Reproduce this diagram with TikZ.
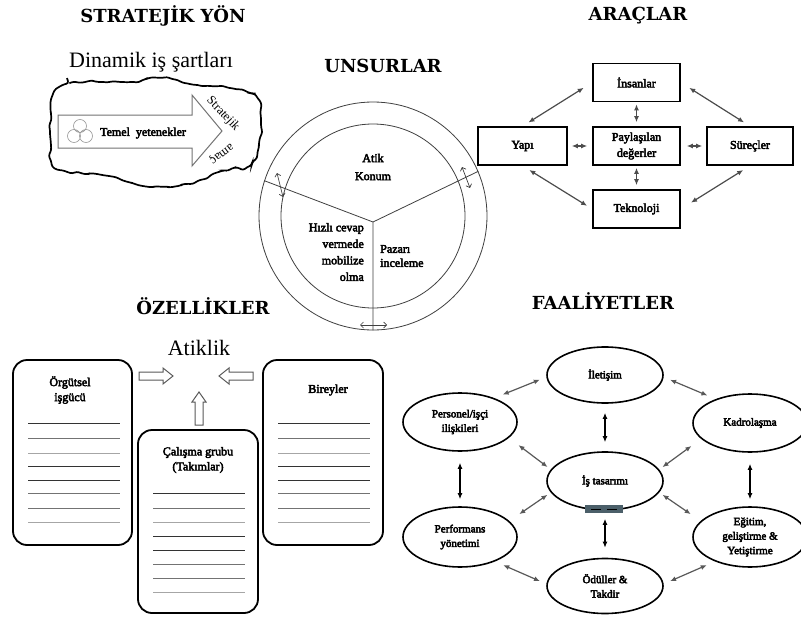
\documentclass[tikz,border=0pt]{standalone}
\usepackage{fontspec}
\setmainfont{Liberation Serif}
\newfontfamily\djserif{DejaVu Serif}
\newcommand\fbon{\special{pdf:literal direct 2 Tr 0.45 w}}
\newcommand\fboff{\special{pdf:literal direct 0 Tr}}
\usetikzlibrary{arrows.meta,shapes.geometric,decorations.pathmorphing,calc}
\pgfmathsetseed{7}
\tikzset{
 fb/.style={execute at begin node=\fbon, execute at end node=\fboff},
 title/.style={font=\fontsize{18}{22}\selectfont\djserif\bfseries, inner sep=0pt},
 big/.style={font=\fontsize{22}{26}\selectfont, inner sep=0pt},
 small/.style={fb, font=\fontsize{12}{15}\selectfont, align=center, inner sep=0pt},
 abox/.style={fb, draw, line width=1.6pt, minimum width=87pt, minimum height=38pt, font=\fontsize{12}{16}\selectfont, align=center, inner sep=1pt},
 aarr/.style={{Latex[length=6pt,width=5pt]}-{Latex[length=6pt,width=5pt]}, line width=1.2pt, black!70},
 fell/.style={fb, draw, ellipse, line width=1.6pt, minimum width=114pt, minimum height=58pt, inner sep=0pt, font=\fontsize{11}{14.5}\selectfont, align=center},
 farr/.style={{Latex[length=6pt,width=5pt]}-{Latex[length=6pt,width=5pt]}, line width=1.2pt, black!65},
 fvarr/.style={{Latex[length=6pt,width=5pt]}-{Latex[length=6pt,width=5pt]}, line width=1.3pt, black},
 lbox/.style={draw, rounded corners=14pt, line width=1.8pt, inner sep=0pt},
 ruleA/.style={black!80, line width=1pt},
 ruleB/.style={black!55, line width=0.8pt},
 ruleC/.style={black!35, line width=0.7pt},
 blk/.style={draw=black!65, line width=1pt, fill=white},
 ring/.style={draw=black!75, line width=0.8pt, circle, inner sep=0pt},
 ringarr/.style={{Straight Barb[length=3pt,width=6pt]}-{Straight Barb[length=3pt,width=6pt]}, line width=0.7pt, black!75},
}
\begin{document}
\begin{tikzpicture}[x=1pt,y=-1pt]
\useasboundingbox (0,0) rectangle (801,621);
\fill[white] (0,0) rectangle (801,621);

% ---------- STRATEJIK YON ----------
\node[title] (t1) at (163,16) {STRATEJİK YÖN};
\node[big] (dyn) at (151,62) {Dinamik iş şartları};
\draw[line width=1.7pt, decorate, decoration={random steps, segment length=5pt, amplitude=1.6pt}, rounded corners=2.5pt]
  plot[smooth cycle] coordinates {(52,97) (67,84) (100,82) (130,82) (160,78) (185,83) (210,86) (235,89) (256,96) (261,125) (258,150) (249,166) (222,171) (200,180) (178,186) (150,187) (128,182) (108,176) (85,174) (65,171) (52,163) (50,132)};
\draw[draw=black!55, line width=1pt, fill=white] (58,115) -- (192,115) -- (192,95) -- (222,131) -- (192,166) -- (192,148) -- (58,148) -- cycle;
\draw[black!40, line width=0.6pt] (80,126) circle (6.5pt) (74,136) circle (6.5pt) (86,136) circle (6.5pt);
\node[small] (tem) at (143,133) {Temel\ \ yetenekler};
\node[font=\fontsize{12.5}{15}\selectfont, rotate=-47, inner sep=0pt] (str) at (223,114) {Stratejik};
\node[font=\fontsize{12.5}{15}\selectfont, rotate=-143, inner sep=0pt] (amac) at (221,153) {amaç};

% ---------- UNSURLAR ----------
\node[title] (t2) at (383,66) {UNSURLAR};
\node[ring, minimum size=228pt] (outer) at (373,216) {};
\node[ring, minimum size=184pt] (inner) at (373,216) {};
\coordinate (hub) at (373,222);
\draw[black!75, line width=0.8pt] (hub) -- (outer.162) (hub) -- (outer.23) (hub) -- (outer.270);
\draw[ringarr] (277,173) -- (283,197);
\draw[ringarr] (462,167) -- (470,188);
\draw[ringarr] (360,325) -- (387,325);
\node[small, font=\fontsize{12}{18}\selectfont] (atik) at (373,167) {Atik\\Konum};
\node[small, align=right, anchor=east, font=\fontsize{12}{16.5}\selectfont] (hiz) at (364,252) {Hızlı cevap\\vermede\\mobilize\\olma};
\node[small, align=left, anchor=west, font=\fontsize{12}{14}\selectfont] (paz) at (380,256) {Pazarı\\inceleme};

% ---------- ARACLAR ----------
\node[title] (t3) at (638,16) {ARAÇLAR};
\node[abox] (ins) at (636.5,82.5) {İnsanlar};
\node[abox] (pay) at (636.5,146) {Paylaşılan\\değerler};
\node[abox, minimum width=89pt] (yap) at (522.5,146) {Yapı};
\node[abox, minimum width=86pt] (sur) at (750,146) {Süreçler};
\node[abox] (tek) at (636.5,209) {Teknoloji};
\draw[aarr, shorten <=7pt, shorten >=10pt] (yap.north) -- (ins.west);
\draw[aarr, shorten <=10pt, shorten >=7pt] (ins.east) -- (sur.north);
\draw[aarr, shorten <=8pt, shorten >=6pt] (yap.south) -- (tek.west);
\draw[aarr, shorten <=12pt, shorten >=8pt] (tek.east) -- (sur.south);
\draw[aarr, shorten <=4pt, shorten >=5pt] (yap.east) -- (pay.west);
\draw[aarr, shorten <=6pt, shorten >=4pt] (pay.east) -- (sur.west);
\draw[aarr, shorten <=2pt, shorten >=4pt] (ins.south) -- (pay.north);
\draw[aarr, shorten <=2pt, shorten >=4pt] (pay.south) -- (tek.north);

% ---------- OZELLIKLER ----------
\node[title] (t4) at (203,306) {ÖZELLİKLER};
\node[big] (atk) at (199,348) {Atiklik};
\node[lbox, minimum width=119pt, minimum height=185pt] (org) at (72.5,452.5) {};
\node[lbox, minimum width=120pt, minimum height=183pt] (cal) at (198,521.5) {};
\node[lbox, minimum width=120pt, minimum height=185pt] (bir) at (323,452.5) {};
\node[small] (orgt) at (70,390) {Örgütsel\\işgücü};
\node[small] (calt) at (198,460) {Çalışma grubu\\(Takımlar)};
\node[small] (birt) at (328,390) {Bireyler};
\foreach \y/\s in {423/ruleA,438/ruleB,453/ruleC,466/ruleA,480/ruleA,493/ruleB,508/ruleB,522/ruleC}{
  \draw[\s] (28,\y) -- (120,\y);
  \draw[\s] (278,\y) -- (370,\y);
}
\foreach \y/\s in {493/ruleA,508/ruleB,522/ruleC,536/ruleA,550/ruleA,564/ruleB,578/ruleB,592/ruleC}{
  \draw[\s] (153,\y) -- (245,\y);
}
\draw[blk] (139,372) -- (163,372) -- (163,368) -- (173,376) -- (163,384) -- (163,380) -- (139,380) -- cycle;
\draw[blk] (253,372) -- (229,372) -- (229,368) -- (219,376) -- (229,384) -- (229,380) -- (253,380) -- cycle;
\draw[blk] (195,425) -- (195,402) -- (192,402) -- (199,392) -- (206,402) -- (203,402) -- (203,425) -- cycle;

% ---------- FAALIYETLER ----------
\node[title] (t5) at (603,301) {FAALİYETLER};
\node[fell, minimum width=116pt, minimum height=56pt] (ile) at (605,375) {İletişim};
\node[fell] (per) at (460,422) {Personel/işçi\\ilişkileri};
\node[fell] (kad) at (750,423) {Kadrolaşma};
\node[fell, minimum width=116pt] (ist) at (605,481) {İş tasarımı};
\node[fell, minimum height=60pt] (prf) at (460,537) {Performans\\yönetimi};
\node[fell, minimum height=60pt] (egt) at (750,537) {Eğitim,\\geliştirme \&\\Yetiştirme};
\node[fell, minimum width=116pt, minimum height=55pt] (odl) at (605,586) {Ödüller \&\\Takdir};
\fill[fill={rgb,255:red,75;green,95;blue,105}] (585,505) rectangle (623,513);
\draw[black, line width=1pt] (591,509) -- (601,509) (607,509) -- (617,509);

\draw[farr, shorten <=9pt, shorten >=7pt] (per.35) -- (ile.182);
\draw[farr, shorten <=7pt, shorten >=9pt] (ile.-2) -- (kad.145);
\draw[farr, shorten <=12pt, shorten >=4pt] (per.-18) -- (ist.168);
\draw[farr, shorten <=12pt, shorten >=4pt] (kad.198) -- (ist.12);
\draw[farr, shorten <=12pt, shorten >=4pt] (prf.18) -- (ist.192);
\draw[farr, shorten <=12pt, shorten >=4pt] (egt.162) -- (ist.-12);
\draw[farr, shorten <=9pt, shorten >=7pt] (prf.-35) -- (odl.178);
\draw[farr, shorten <=7pt, shorten >=9pt] (odl.2) -- (egt.-145);
\draw[fvarr, shorten <=9pt, shorten >=9pt] (ile.south) -- (ist.north);
\draw[fvarr, shorten <=11pt, shorten >=7pt] (per.south) -- (prf.north);
\draw[fvarr, shorten <=11pt, shorten >=7pt] (kad.south) -- (egt.north);
\draw[fvarr, shorten <=8pt, shorten >=10pt] (ist.south) -- (odl.north);
\end{tikzpicture}
\end{document}
